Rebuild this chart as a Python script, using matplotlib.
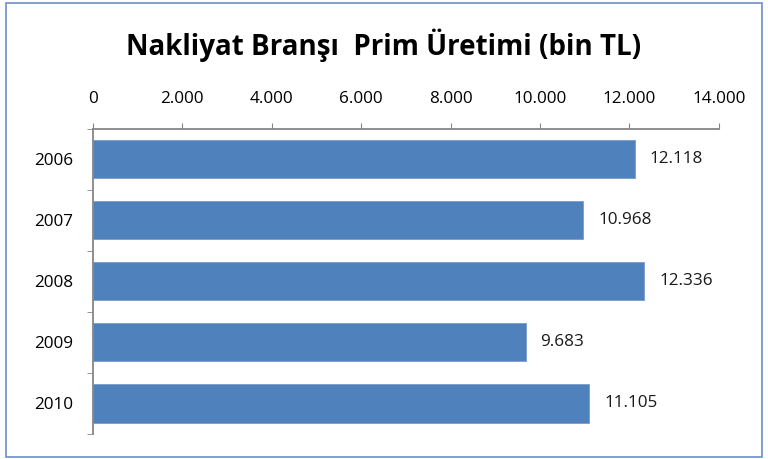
import matplotlib.pyplot as plt
from matplotlib.patches import Rectangle

years = ["2006", "2007", "2008", "2009", "2010"]
prim = [12118, 10968, 12336, 9683, 11105]
xticks = [0, 2000, 4000, 6000, 8000, 10000, 12000, 14000]


def tr_fmt(v):
    # turkish thousand separator
    return f"{v:,.0f}".replace(",", ".")


plt.rcParams["font.family"] = ["Open Sans", "DejaVu Sans"]

fig = plt.figure(figsize=(7.68, 4.59), dpi=100)
ax = fig.add_axes([0.121, 0.0545, 0.815, 0.665])

pos = list(range(len(years)))
ax.barh(pos, prim, height=0.625, color="#4F81BD", edgecolor="#7A9CCB", linewidth=0.6)
for p, v in zip(pos, prim):
    ax.text(v + 330, p, tr_fmt(v), va="center", ha="left", fontsize=12.3, color="#1a1a1a")

ax.set_xlim(0, 14000)
ax.set_ylim(len(years) - 0.5, -0.5)
ax.xaxis.tick_top()
ax.set_xticks(xticks)
ax.set_xticklabels([tr_fmt(t) for t in xticks], fontsize=12.3)
ax.set_yticks(pos)
ax.set_yticklabels(years, fontsize=12.3)
ax.tick_params(axis="y", length=0, pad=14)
ax.tick_params(axis="x", length=4, color="#868686", pad=12)
# category boundary ticks on y axis
ax.set_yticks([i - 0.5 for i in range(len(years) + 1)], minor=True)
ax.tick_params(axis="y", which="minor", length=4, color="#868686")

for s in ["right", "bottom"]:
    ax.spines[s].set_visible(False)
ax.spines["top"].set_color("#868686")
ax.spines["left"].set_color("#868686")
ax.spines["top"].set_linewidth(1.3)
ax.spines["left"].set_linewidth(1.3)

fig.text(0.5, 0.902, "Nakliyat Branşı  Prim Üretimi (bin TL)", ha="center", va="center",
         fontsize=20, fontweight="bold")

fig.patches.append(Rectangle((0.008, 0.004), 0.984, 0.99, transform=fig.transFigure,
                             fill=False, edgecolor="#6D8FC6", linewidth=1.2))

fig.savefig("out.png", dpi=100)
